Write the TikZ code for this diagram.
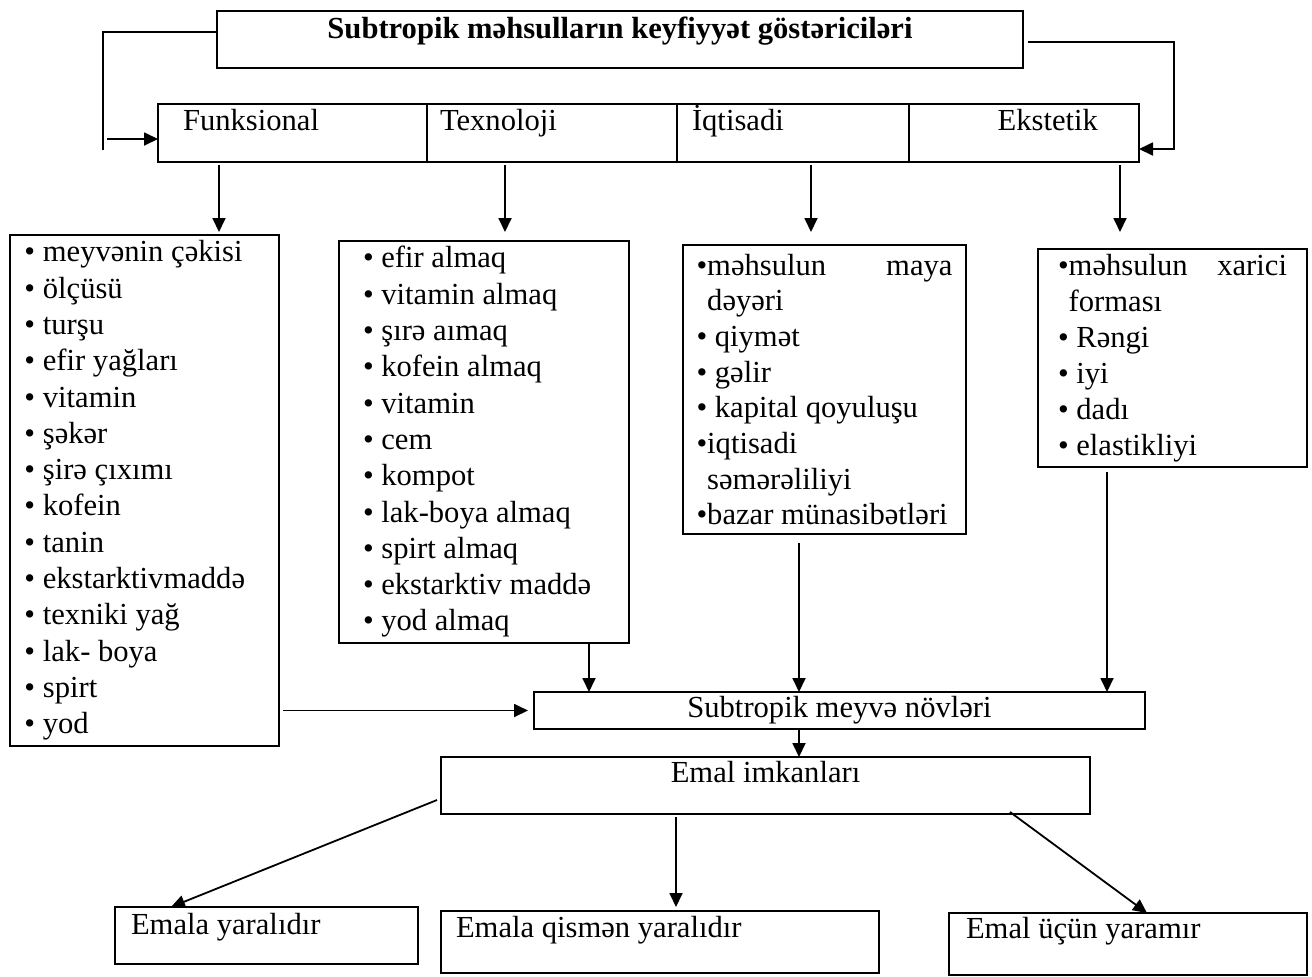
\documentclass[tikz,border=0pt]{standalone}
\usepackage{fontspec}
\setmainfont{Liberation Serif}
\usetikzlibrary{positioning,arrows.meta}
\hyphenpenalty=10000

\begin{document}
\begin{tikzpicture}
[x=0.5pt, y=-0.5pt,
 every node/.style={font=\fontsize{15.3}{18.15}\selectfont},
 box/.style={draw, line width=1pt, anchor=north west, inner ysep=0pt, outer sep=0pt},
 cell/.style={box, align=flush left, text height=13pt, text depth=16pt},
 lst/.style={box, align=flush left},
 arr/.style={line width=0.9pt, -{Triangle[length=7pt,width=6.5pt]}}]
\useasboundingbox (0,0) rectangle (1312,976);
\node[box, minimum width=403pt, text height=13.5pt, text depth=15pt,
  font=\fontsize{15.3}{18.15}\selectfont\bfseries] (head) at (217,11)
  {Subtropik məhsulların keyfiyyət göstəriciləri};
\node[cell, text width=109.5pt, inner xsep=12.5pt] (cfun) at (158,104) {Funksional};
\node[cell, text width=112pt, inner xsep=6.5pt, right=0pt of cfun] (ctex) {Texnoloji};
\node[cell, text width=101pt, inner xsep=7.5pt, right=0pt of ctex] (ciqt) {İqtisadi};
\node[cell, text width=74pt, inner xsep=20.5pt, align=flush right, right=0pt of ciqt] (ceks) {Ekstetik};
\node[lst, text width=120pt, inner xsep=7.25pt, minimum height=255.5pt] (lfun) at (10,235)
  {•~meyvənin çəkisi\\ •~ölçüsü\\ •~turşu\\ •~efir yağları\\ •~vitamin\\ •~şəkər\\
   •~şirə çıxımı\\ •~kofein\\ •~tanin\\ •~ekstarktivmaddə\\ •~texniki yağ\\
   •~lak- boya\\ •~spirt\\ •~yod};
\node[lst, text width=121pt, inner xsep=12pt, minimum height=201pt] (ltex) at (339,241)
  {•~efir almaq\\ •~vitamin almaq\\ •~şırə aımaq\\ •~kofein almaq\\ •~vitamin\\ •~cem\\
   •~kompot\\ •~lak-boya almaq\\ •~spirt almaq\\ •~ekstarktiv maddə\\ •~yod almaq};
\node[lst, text width=128pt, inner xsep=6.75pt, minimum height=144.5pt,
  font=\fontsize{15.3}{17.85}\selectfont] (liqt) at (683,245)
  {•məhsulun\hfill maya\\ \hphantom{•}dəyəri\\ •~qiymət\\ •~gəlir\\ •~kapital qoyuluşu\\
   •iqtisadi\\ \hphantom{•}səmərəliliyi\\ •bazar münasibətləri};
\node[lst, text width=114.5pt, inner xsep=10pt, minimum height=109pt,
  font=\fontsize{15.3}{18}\selectfont] (leks) at (1038,249)
  {•məhsulun\hfill xarici\\ \hphantom{•}forması\\ •~Rəngi\\ •~iyi\\ •~dadı\\ •~elastikliyi};
\node[box, minimum width=305.5pt, text height=12.5pt, text depth=6pt] (meyve) at (534,692)
  {Subtropik meyvə növləri};
\node[box, minimum width=324.5pt, text height=12.5pt, text depth=16pt] (emal) at (441,757)
  {Emal imkanları};
\node[cell, text width=135.5pt, inner xsep=8pt, text height=13.5pt, text depth=15pt] (yarali) at (115,907)
  {Emala yaralıdır};
\node[cell, text width=204pt, inner xsep=7.5pt, text height=13pt, text depth=18pt] (qismen) at (441,911)
  {Emala qismən yaralıdır};
\node[cell, text width=162pt, inner xsep=8.5pt, text height=12.5pt, text depth=18.5pt] (yaramir) at (949,913)
  {Emal üçün yaramır};
\coordinate (lloop) at (103,150);
\coordinate (larr) at (107,139);
\coordinate (rloop) at (1174,149);
\draw[line width=0.9pt] ([yshift=3.75pt]head.west) -| (lloop);
\draw[arr] (larr) -- (larr -| cfun.west);
\draw[arr] ([xshift=2.5pt,yshift=-1.25pt]head.east) -| (rloop) -- (rloop -| ceks.east);
\coordinate (dfun) at (219,232);
\coordinate (dtex) at (505,232);
\coordinate (diqt) at (811,232);
\coordinate (deks) at (1120,232);
\draw[arr, shorten <=1.5pt] (cfun.south -| dfun) -- (dfun);
\draw[arr, shorten <=1.5pt] (ctex.south -| dtex) -- (dtex);
\draw[arr, shorten <=1.5pt] (ciqt.south -| diqt) -- (diqt);
\draw[arr, shorten <=1.5pt] (ceks.south -| deks) -- (deks);
\coordinate (mtex) at (589,692);
\coordinate (miqt) at (799,692);
\coordinate (meks) at (1107,692);
\draw[arr] (ltex.south -| mtex) -- (mtex);
\draw[arr, shorten <=4.5pt] (liqt.south -| miqt) -- (miqt);
\draw[arr, shorten <=2.5pt] (leks.south -| meks) -- (meks);
\draw[arr, shorten <=2pt, shorten >=3pt] (lfun.east |- meyve.west) -- (meyve.west);
\draw[arr] (meyve.south -| miqt) -- (emal.north -| miqt);
\coordinate (eleft) at (437,800);
\coordinate (eright) at (1010,812);
\coordinate (in1) at (171,907);
\coordinate (in2) at (676,911);
\coordinate (in3) at (1147,913);
\draw[arr] (eleft) -- (in1);
\draw[arr, shorten <=1.5pt, shorten >=2pt] (emal.south -| in2) -- (in2);
\draw[arr] (eright) -- (in3);
\end{tikzpicture}
\end{document}
